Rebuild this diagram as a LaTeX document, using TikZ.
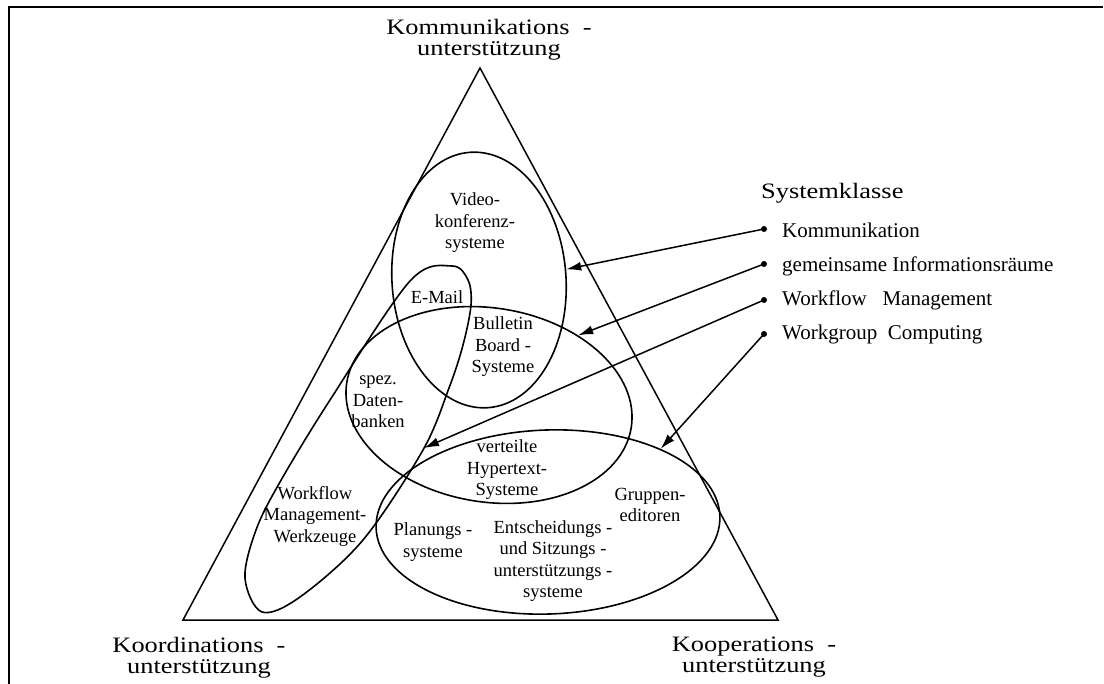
\documentclass[tikz,border=0pt]{standalone}
\usepackage{fontspec}
\setmainfont{Liberation Serif}
\newfontfamily\widefont{Liberation Serif}[FakeStretch=1.2]
\usetikzlibrary{shapes.geometric,arrows.meta}

\begin{document}
\begin{tikzpicture}[x=1pt,y=-1pt,
  frame/.style={line width=1.8pt},
  edge/.style={line width=1.5pt,line join=miter},
  outline/.style={line width=1.6pt},
  region/.style={draw,ellipse,outline,inner sep=0pt},
  lbl/.style={align=center,inner sep=0pt,font=\fontsize{18.5}{21.5}\selectfont},
  corner/.style={align=center,inner sep=0pt,font=\widefont\fontsize{22}{21}\selectfont},
  heading/.style={anchor=west,inner sep=0pt,font=\widefont\fontsize{22}{24}\selectfont},
  item/.style={anchor=west,inner sep=0pt,font=\fontsize{21}{24}\selectfont},
  dot/.style={circle,fill,inner sep=0pt,minimum size=6pt},
  pointer/.style={line width=1.5pt,-{Latex[length=15pt,width=9pt]}}
]
\useasboundingbox (0,0) rectangle (1104,684);

% frame
\draw[frame] (9,684) -- (9,7) -- (1103,7);

% triangle of support dimensions
\coordinate (top) at (480,68);
\coordinate (left) at (183,620);
\coordinate (right) at (778,620);
\draw[edge] (top) -- (right) -- (left) -- cycle;

\node[corner] (kom) at (489,40) {Kommunikations\ \ -\\unterstützung};
\node[corner] (koord) at (199,658) {Koordinations\ \ -\\unterstützung};
\node[corner] (koop) at (754,657) {Kooperations\ \ -\\unterstützung};

% system class regions
\node[region,minimum width=174pt,minimum height=256pt,rotate=4] (video) at (479,280) {};
\node[region,minimum width=288pt,minimum height=194pt,rotate=-9] (info) at (489,405) {};
\node[region,minimum width=344pt,minimum height=184pt,rotate=2] (wg) at (548,522) {};
% workflow loop: slanted egg shape
\draw[outline] plot[smooth cycle,tension=0.55] coordinates {
  (452,266) (468,280) (471,305) (463,345) (449,388) (423,450)
  (363,540) (300,597) (262,612) (245,578) (256,530) (280,482)
  (330,400) (410,281)};
\coordinate (wfin) at (424,448);

% system labels
\node[lbl] (t1) at (475,223) {Video-\\konferenz-\\systeme};
\node[lbl] (t2) at (437,297) {E-Mail};
\node[lbl] (t3) at (503,347) {Bulletin\\Board -\\Systeme};
\node[lbl] (t4) at (378,402) {spez.\\Daten-\\banken};
\node[lbl] (t5) at (507,470) {verteilte\\Hypertext-\\Systeme};
\node[lbl] (t6) at (315,516) {Workflow\\Management-\\Werkzeuge};
\node[lbl] (t7) at (433,542) {Planungs -\\systeme};
\node[lbl] (t8) at (553,561) {Entscheidungs -\\und Sitzungs -\\unterstützungs -\\systeme};
\node[lbl] (t9) at (650,505) {Gruppen-\\editoren};

% legend
\node[heading] (head) at (761,193) {Systemklasse};
\node[dot] (b1) at (764,229) {};
\node[dot] (b2) at (764,264) {};
\node[dot] (b3) at (764,300) {};
\node[dot] (b4) at (764,334) {};
\node[item] (l1) at (782,230) {Kommunikation};
\node[item] (l2) at (782,266) {gemeinsame Informationsräume};
\node[item] (l3) at (782,300) {Workflow\ \ \ Management};
\node[item] (l4) at (782,334) {Workgroup\ \ Computing};

% pointers from legend to regions
\draw[pointer] (b1.center) -- (video.3);
\draw[pointer] (b2.center) -- (info.47);
\draw[pointer] (b3.center) -- (wfin);
\draw[pointer] (b4.center) -- (wg.31);
\end{tikzpicture}
\end{document}
